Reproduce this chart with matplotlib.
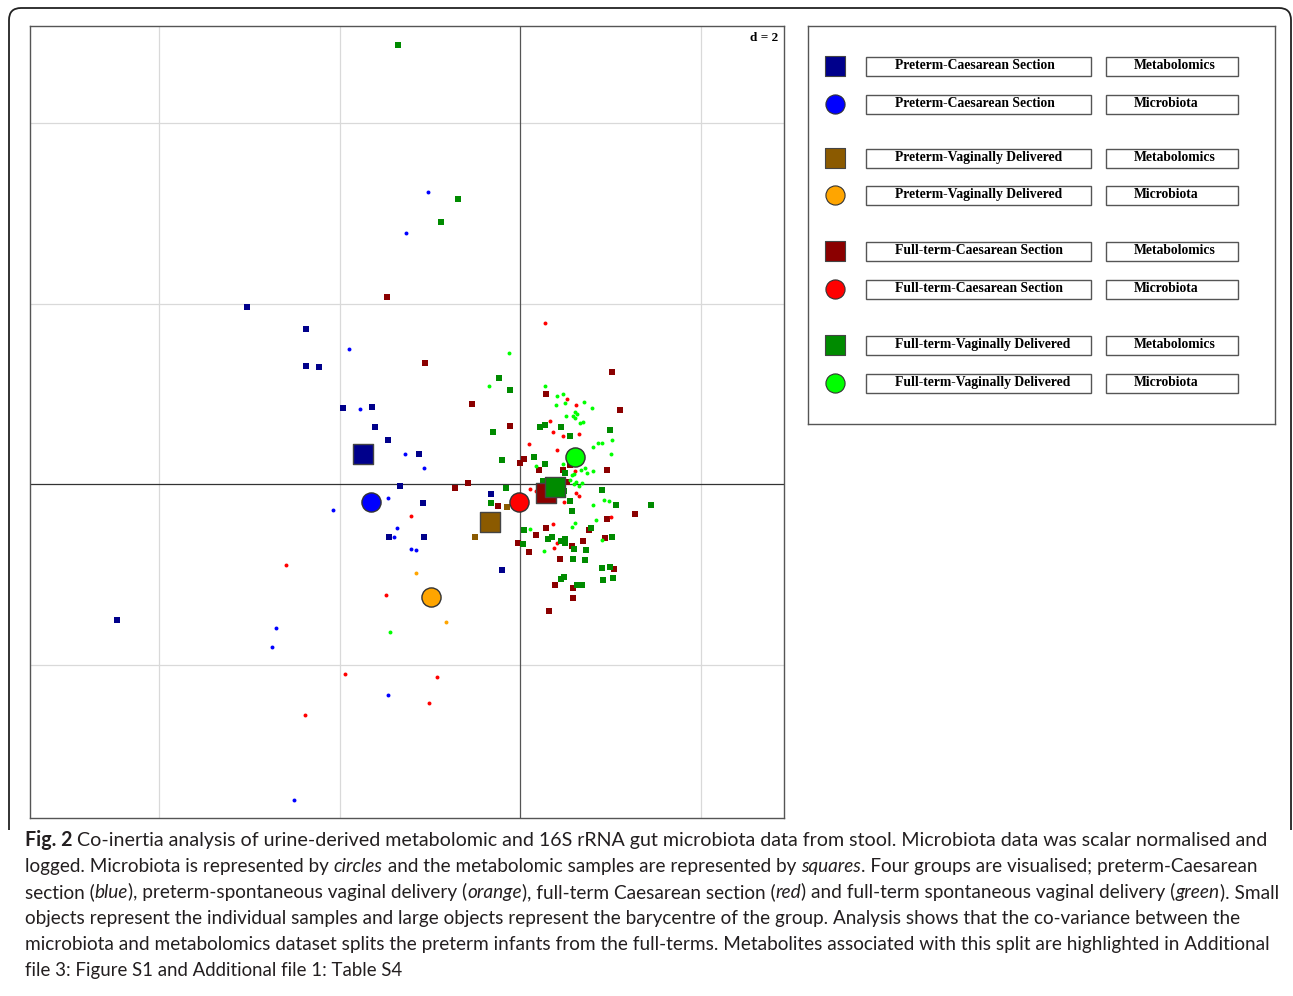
import matplotlib
matplotlib.use('Agg')
import matplotlib.pyplot as plt
from matplotlib.patches import Rectangle, PathPatch
from matplotlib.path import Path
from matplotlib.font_manager import FontProperties

# ---------------- data (co-inertia coordinates) ----------------
pc_met_x = [-3.03, -2.37, -2.37, -2.23, -1.96, -1.64, -1.61, -1.46, -1.12, -1.33, -1.08, -1.45, -1.07, -0.32, -0.20, -4.47]
pc_met_y = [1.96, 1.72, 1.31, 1.30, 0.85, 0.86, 0.64, 0.49, 0.33, -0.02, -0.21, -0.58, -0.58, -0.11, -0.95, -1.50]
pc_mic_x = [-1.90, -1.77, -1.28, -1.07, -1.02, -1.27, -1.47, -2.07, -1.37, -1.40, -1.21, -1.15, -2.71, -2.75, -1.47, -2.51]
pc_mic_y = [1.50, 0.83, 0.33, 0.18, 3.24, 2.78, -0.15, -0.29, -0.48, -0.59, -0.72, -0.73, -1.59, -1.80, -2.34, -3.50]
pv_met_x = [-0.15, -0.50]
pv_met_y = [-0.25, -0.59]
pv_mic_x = [-1.15, -0.82]
pv_mic_y = [-0.98, -1.53]
fc_met_x = [-1.48, -1.06, -0.72, -0.58, 1.01, 0.28, 1.10, -0.54, -0.11, 0.04, 0.00, 0.55, 0.21, 0.47, 0.96, 0.52,
            -0.25, 1.27, 0.96, 0.76, 0.28, 0.17, 0.94, 0.69, -0.03, 0.10, 0.57, 0.44, 1.04, 0.38, 0.58, 0.58, 0.32]
fc_met_y = [2.08, 1.34, -0.04, 0.01, 1.24, 1.00, 0.82, 0.89, 0.65, 0.28, 0.23, 0.21, 0.16, 0.16, 0.16, 0.02,
            -0.24, -0.33, -0.39, -0.51, -0.48, -0.56, -0.60, -0.63, -0.65, -0.75, -0.68, -0.83, -0.94, -1.12, -1.15, -1.26, -1.41]
fc_mic_x = [0.27, 0.52, 0.62, 0.33, 0.36, 0.47, 0.65, 0.10, 0.41, 0.60, 0.11, 0.17, 0.62, 0.65, 0.48, 1.00, 0.36,
            0.41, 0.37, -1.21, -2.59, -1.49, -1.94, -0.92, -1.01, -2.39]
fc_mic_y = [1.79, 0.94, 0.88, 0.70, 0.58, 0.53, 0.56, 0.45, 0.38, 0.15, -0.05, -0.08, -0.10, -0.13, -0.20, -0.36, -0.44,
            -0.65, -0.71, -0.35, -0.90, -1.23, -2.10, -2.14, -2.42, -2.56]
fv_met_x = [-1.36, -0.69, -0.88, -0.24, -0.11, -0.30, 0.22, 0.27, 0.45, 0.99, 0.55, -0.20, 0.15, 0.27, 0.50, 0.25,
            -0.16, -0.32, 0.48, 0.91, 0.55, 1.06, 1.45, 0.57, 0.04, 0.78, 0.35, 0.31, 0.03, 1.01, 0.45, 0.50, 0.50,
            0.59, 0.73, 0.58, 0.72, 0.90, 0.99, 0.92, 1.03, 0.45, 0.48, 0.63, 0.68]
fv_met_y = [4.87, 3.16, 2.91, 1.18, 1.05, 0.58, 0.63, 0.66, 0.63, 0.60, 0.54, 0.27, 0.30, 0.22, 0.12, 0.04,
            -0.04, -0.21, -0.07, -0.06, -0.19, -0.23, -0.23, -0.30, -0.51, -0.49, -0.59, -0.61, -0.66, -0.58, -0.63, -0.61, -0.65,
            -0.72, -0.73, -0.83, -0.84, -0.93, -0.92, -1.06, -1.04, -1.05, -1.03, -1.12, -1.12]
fv_mic_x = [-0.12, -0.35, 0.27, 0.41, 0.47, 0.40, 0.50, 0.71, 0.79, 0.60, 0.63, 0.58, 0.51, 0.61, 0.66, 0.69,
            0.86, 0.90, 1.01, 0.81, 1.00, 0.47, 0.17, 0.67, 0.72, 0.81, 0.74, 0.59, 0.57, 0.55, 0.62, 0.68, 0.59,
            0.65, 0.24, 0.81, 0.93, 0.98, 0.84, 0.60, 0.57, 0.11, 0.91, 0.26, -1.44]
fv_mic_y = [1.45, 1.09, 1.09, 0.98, 1.00, 0.88, 0.90, 0.91, 0.84, 0.80, 0.78, 0.76, 0.76, 0.73, 0.68, 0.69,
            0.46, 0.46, 0.49, 0.41, 0.34, 0.22, 0.20, 0.16, 0.18, 0.15, 0.13, 0.11, 0.10, 0.05, 0.03, 0.01, 0.00,
            -0.02, -0.07, -0.23, -0.17, -0.19, -0.40, -0.43, -0.47, -0.50, -0.62, -0.74, -1.64]

# barycentres (x, y) per group
bary_met_x = [-1.74, -0.34, 0.28, 0.38]
bary_met_y = [0.34, -0.42, -0.10, -0.03]
bary_mic_x = [-1.65, -0.99, -0.02, 0.60]
bary_mic_y = [-0.20, -1.25, -0.20, 0.30]

groups = ['Preterm-Caesarean Section', 'Preterm-Vaginally Delivered',
          'Full-term-Caesarean Section', 'Full-term-Vaginally Delivered']
met_colors = ['#00008B', '#8B5A00', '#8B0000', '#008B00']
mic_colors = ['#0000FF', '#FFA500', '#FF0000', '#00FF00']
data_types = ['Metabolomics', 'Microbiota']

grid_x = [-4, -2, 2]
grid_y = [-2, 2, 4]
xlim = (-5.43, 2.92)
ylim = (-3.70, 5.08)

# ---------------- figure ----------------
W, H = 1293, 996
fig = plt.figure(figsize=(W / 100, H / 100), dpi=100)

# outer frame with rounded top corners
bg = fig.add_axes([0, 0, 1, 1], zorder=-5)
bg.set_xlim(0, W)
bg.set_ylim(H, 0)
bg.axis('off')
r = 12
verts = [(9, 830), (9, 8 + r), (9, 8), (9 + r, 8), (W - 2 - r, 8), (W - 2, 8), (W - 2, 8 + r), (W - 2, 830)]
codes = [Path.MOVETO, Path.LINETO, Path.CURVE3, Path.CURVE3, Path.LINETO, Path.CURVE3, Path.CURVE3, Path.LINETO]
bg.add_patch(PathPatch(Path(verts, codes), facecolor='none', edgecolor='#222222', lw=1.3))

# main scatter axes
ax = fig.add_axes([30 / W, 1 - 818 / H, 754 / W, 792 / H])
ax.set_xlim(*xlim)
ax.set_ylim(*ylim)
ax.set_xticks([])
ax.set_yticks([])
for s in ax.spines.values():
    s.set_color('#555555')
    s.set_linewidth(1.0)
for gx in grid_x:
    ax.axvline(gx, color='#d9d9d9', lw=0.9, zorder=0)
for gy in grid_y:
    ax.axhline(gy, color='#d9d9d9', lw=0.9, zorder=0)
ax.axvline(0, color='#555555', lw=0.9, zorder=0.5)
ax.axhline(0, color='#333333', lw=0.9, zorder=0.5)

met_sets = [(pc_met_x, pc_met_y), (pv_met_x, pv_met_y), (fc_met_x, fc_met_y), (fv_met_x, fv_met_y)]
mic_sets = [(pc_mic_x, pc_mic_y), (pv_mic_x, pv_mic_y), (fc_mic_x, fc_mic_y), (fv_mic_x, fv_mic_y)]
for i in range(4):
    mx, my = met_sets[i]
    ax.scatter(mx, my, marker='s', s=23, c=met_colors[i], linewidths=0, zorder=2)
    cx, cy = mic_sets[i]
    ax.scatter(cx, cy, marker='o', s=8, c=mic_colors[i], linewidths=0, zorder=2)
for i in range(4):
    ax.scatter([bary_met_x[i]], [bary_met_y[i]], marker='s', s=190, c=met_colors[i],
               edgecolors='#444444', linewidths=1.0, zorder=3)
    ax.scatter([bary_mic_x[i]], [bary_mic_y[i]], marker='o', s=190, c=mic_colors[i],
               edgecolors='#333333', linewidths=1.0, zorder=3)
ax.text(0.993, 0.992, 'd = 2', transform=ax.transAxes, ha='right', va='top',
        family='Liberation Serif', weight='bold', fontsize=9.5)

# legend panel
lg = fig.add_axes([808 / W, 1 - 424 / H, 467 / W, 398 / H])
lg.set_xlim(808, 1275)
lg.set_ylim(424, 26)
lg.set_xticks([])
lg.set_yticks([])
for s in lg.spines.values():
    s.set_color('#555555')
    s.set_linewidth(1.0)
row_y = [66.5, 104.3, 158.3, 195.5, 251.2, 289.2, 345.5, 383.2]
k = 0
for i in range(4):
    for j in range(2):
        yy = row_y[k]
        k += 1
        if j == 0:
            lg.scatter([835], [yy], marker='s', s=200, c=met_colors[i], edgecolors='#444444', linewidths=0.8, zorder=3)
        else:
            lg.scatter([835], [yy], marker='o', s=190, c=mic_colors[i], edgecolors='#333333', linewidths=0.8, zorder=3)
        lg.add_patch(Rectangle((866.3, yy - 9.5), 224.7, 19, facecolor='white', edgecolor='#555555', lw=1.0))
        lg.add_patch(Rectangle((1105.7, yy - 9.5), 132.6, 19, facecolor='white', edgecolor='#555555', lw=1.0))
        lg.text(895, yy - 0.8, groups[i], ha='left', va='center', family='Liberation Serif',
                weight='bold', fontsize=9.8)
        lg.text(1133.7, yy - 0.8, data_types[j], ha='left', va='center', family='Liberation Serif',
                weight='bold', fontsize=9.8)

# caption
N, I, B = ('normal', 'normal'), ('italic', 'normal'), ('normal', 'bold')
caption = [
    [("Fig. 2", B), (" Co-inertia analysis of urine-derived metabolomic and 16S rRNA gut microbiota data from stool. Microbiota data was scalar normalised and", N)],
    [("logged. Microbiota is represented by ", N), ("circles", I), (" and the metabolomic samples are represented by ", N), ("squares", I), (". Four groups are visualised; preterm-Caesarean", N)],
    [("section (", N), ("blue", I), ("), preterm-spontaneous vaginal delivery (", N), ("orange", I), ("), full-term Caesarean section (", N), ("red", I), (") and full-term spontaneous vaginal delivery (", N), ("green", I), ("). Small", N)],
    [("objects represent the individual samples and large objects represent the barycentre of the group. Analysis shows that the co-variance between the", N)],
    [("microbiota and metabolomics dataset splits the preterm infants from the full-terms. Metabolites associated with this split are highlighted in Additional", N)],
    [("file 3: Figure S1 and Additional file 1: Table S4", N)],
]
line_right = [1270, 1259, 1276, 1240, 1270, 403]
renderer = fig.canvas.get_renderer()
CAP_FONT = 'Lato'


def fp(style, size):
    return FontProperties(family=CAP_FONT, style=style[0], weight=style[1], size=size)


def tw(s, prop):
    w1, _, _ = renderer.get_text_width_height_descent('|' + s + '|', prop, ismath=False)
    w0, _, _ = renderer.get_text_width_height_descent('||', prop, ismath=False)
    return w1 - w0


for li, segs in enumerate(caption):
    w_ref = sum(tw(t, fp(st, 10)) for t, st in segs)
    size = 10 * (line_right[li] - 25.0) / w_ref
    x = 25.0
    yb = 846 + 26 * li
    for t, st in segs:
        prop = fp(st, size)
        fig.text(x / W, 1 - yb / H, t, fontproperties=prop, ha='left', va='baseline', color='#231f20')
        x += tw(t, prop)

fig.savefig('out.png', dpi=100)
